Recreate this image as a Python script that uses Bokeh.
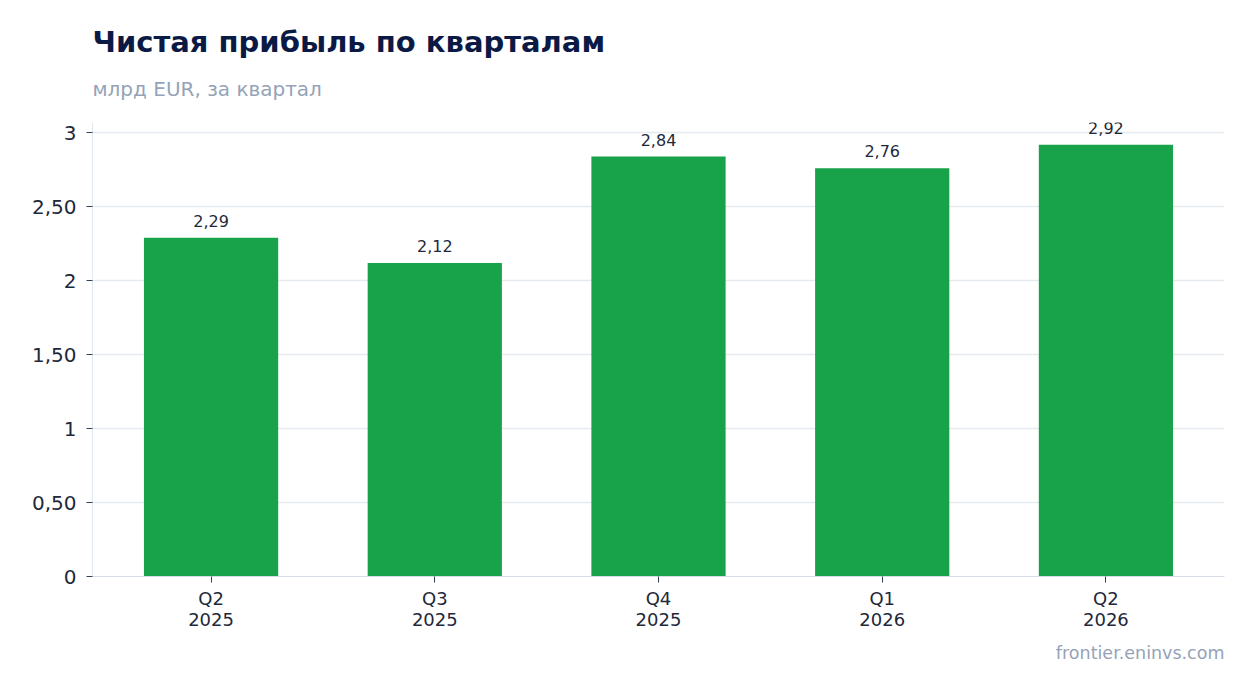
from bokeh.plotting import figure
from bokeh.models import ColumnDataSource, FactorRange, Range1d, FixedTicker, Title, LabelSet
from bokeh.core.properties import value
from bokeh.embed import file_html
from bokeh.resources import INLINE

# data
quarters = ["Q2", "Q3", "Q4", "Q1", "Q2"]
years = ["2025", "2025", "2025", "2026", "2026"]
profit = [2.29, 2.12, 2.84, 2.76, 2.92]
y_ticks = [0, 0.5, 1, 1.5, 2, 2.5, 3]
y_tick_labels = ["0", "0,50", "1", "1,50", "2", "2,50", "3"]

FONT = "DejaVu Sans"
DARK = "#1e293b"
MUTED = "#94a3b8"

factors = [q + "\n" + y for q, y in zip(quarters, years)]
labels = [("%.2f" % v).replace(".", ",") for v in profit]
source = ColumnDataSource(dict(x=factors, top=profit, label=labels))

p = figure(x_range=FactorRange(*factors, range_padding=0.012),
           y_range=Range1d(0, 3.07),
           frame_width=1132, frame_height=454,
           min_border_left=92, min_border_right=14, min_border_top=122, min_border_bottom=0,
           output_backend="svg", toolbar_location=None, tools="")
p.title.text = ""
p.outline_line_color = None
p.background_fill_color = "white"

# titles: subtitle first so it sits closer to the frame
p.add_layout(Title(text="млрд EUR, за квартал", text_font=FONT, text_font_size="20px",
                   text_font_style="normal", text_color=MUTED, align="left",
                   text_line_height=0.7, standoff=44), "above")
p.add_layout(Title(text="Чистая прибыль по кварталам", text_font=FONT, text_font_size="29px",
                   text_font_style="bold", text_color="#0b1a45", align="left",
                   standoff=-12), "above")

p.vbar(x="x", top="top", width=0.6, source=source, fill_color="#18a34a", line_color=None)
# value labels as annotations so the top one is not clipped by the frame
p.add_layout(LabelSet(x="x", y="top", text="label", source=source, y_offset=11,
                      text_align="center", text_baseline="bottom",
                      text_font=value(FONT), text_font_size=value("16px"), text_color=DARK))

# y axis
p.yaxis.ticker = FixedTicker(ticks=y_ticks)
p.yaxis.major_label_overrides = dict(zip(y_ticks, y_tick_labels))
p.yaxis.major_label_text_font = FONT
p.yaxis.major_label_text_font_size = "20px"
p.yaxis.major_label_text_color = DARK
p.yaxis.axis_line_color = "#e2e8f0"
p.yaxis.major_tick_line_color = "#334155"
p.yaxis.major_tick_out = 6
p.yaxis.major_tick_in = 0
p.yaxis.minor_tick_line_color = None
p.yaxis.major_label_standoff = 10

# x axis
p.xaxis.major_label_text_font = FONT
p.xaxis.major_label_text_font_size = "18px"
p.xaxis.major_label_text_line_height = 1.0
p.xaxis.major_label_text_color = DARK
p.xaxis.axis_line_color = "#d7dde6"
p.xaxis.major_tick_line_color = "#334155"
p.xaxis.major_tick_out = 6
p.xaxis.major_tick_in = 0
p.xaxis.major_label_standoff = 5

p.xgrid.grid_line_color = None
p.ygrid.grid_line_color = "#e5e9f0"
p.ygrid.grid_line_width = 1.5

p.add_layout(Title(text="frontier.eninvs.com", text_font=FONT, text_font_size="17.5px",
                   text_font_style="normal", text_color=MUTED, align="right",
                   standoff=16), "below")

open("out.html", "w").write(file_html(p, INLINE))
